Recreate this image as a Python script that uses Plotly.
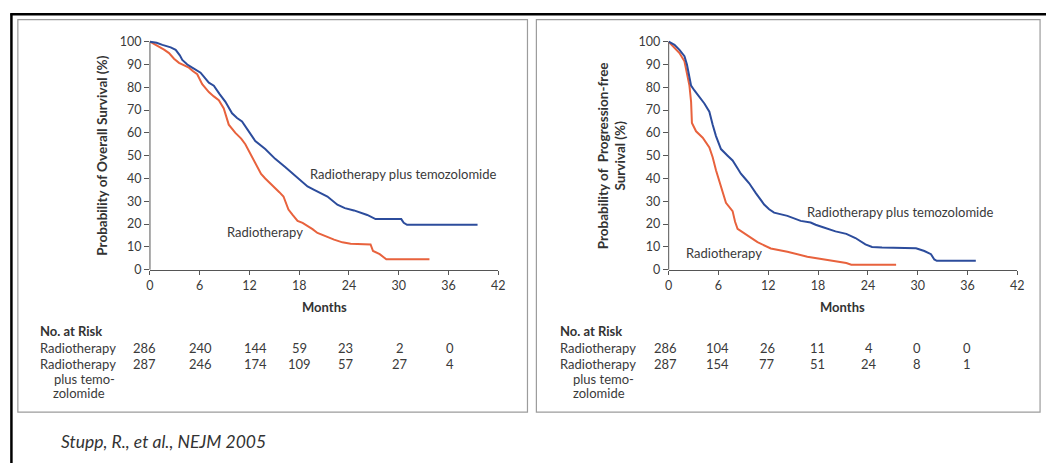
import plotly.graph_objects as go

# ---------------- data ----------------
os_tmz_months = [0, 0.8, 1.5, 2.5, 3.1, 3.6, 3.9, 4.5, 5.1, 6.1, 7.1, 7.7, 8.4, 9.1, 9.9, 10.5, 11.1,
                 11.9, 12.7, 13.9, 15.1, 16.3, 17.5, 18.2, 19.0, 19.8, 20.6, 21.4, 22.6, 23.5, 24.6,
                 25.4, 26.2, 27.2, 30.3, 30.6, 31.0, 39.5]
os_tmz_surv = [100, 99.5, 98.6, 97.5, 96.4, 94, 92, 90, 88.6, 86.4, 82, 80.7, 77, 73.6, 68.6, 66.5, 65,
               60.7, 56.4, 52.9, 48.6, 45, 41.4, 39, 36.5, 35, 33.5, 32.1, 28.5, 27, 26,
               25, 24, 22.2, 22.2, 20.6, 19.7, 19.7]

os_rt_months = [0, 0.5, 1.1, 1.7, 2.3, 2.9, 3.5, 4.1, 4.7, 5.2, 5.7, 6.3, 7.1, 7.7, 8.3, 8.9,
                9.5, 10.3, 11.0, 11.5, 12.1, 12.9, 13.4, 13.9, 14.5, 15.1, 15.6, 16.1, 16.7,
                17.2, 17.8, 18.4, 19.0, 19.6, 20.2, 21.2, 22.2, 23.2, 24.2, 26.6, 26.9, 27.7, 28.5, 33.7]
os_rt_surv = [100, 99, 97.9, 96.5, 95, 92.5, 90.7, 89.5, 88.6, 87, 85.7, 81.4, 77.9, 76, 74.3, 70.7,
              63.6, 60, 57.5, 55, 50.7, 45, 42, 40, 38, 35.7, 34, 32.1, 26.4,
              24, 21.4, 20.5, 19.3, 17.8, 16.1, 14.5, 13.2, 12, 11.4, 11.1, 8.2, 6.8, 4.6, 4.6]

pfs_tmz_months = [0, 0.7, 1.3, 1.9, 2.2, 2.5, 2.7, 3.1, 3.7, 4.3, 4.9, 5.1, 5.3, 5.7, 6.3, 7.1, 7.7,
                  8.2, 8.7, 9.2, 9.7, 10.5, 11.0, 11.5, 12.1, 12.7, 14.3, 15.9, 17.1, 17.7, 18.6,
                  19.8, 20.1, 21.4, 22.5, 23.7, 24.5, 25.7, 29.8, 30.8, 31.6, 32.0, 32.3, 37.0]
pfs_tmz_surv = [100, 98.6, 96.4, 93.6, 90, 85, 80.7, 78.6, 75.7, 72.9, 69.3, 66, 63.6, 58.6, 52.9, 50, 47.9,
                45, 42.1, 40, 37.9, 33.6, 31, 28.6, 26.5, 25, 23.6, 21.4, 20.7, 19.7, 18.6,
                17.1, 16.8, 15.7, 13.9, 11.1, 10, 9.7, 9.4, 8.2, 6.8, 4.5, 3.9, 3.9]

pfs_rt_months = [0, 0.5, 0.9, 1.3, 1.9, 2.2, 2.5, 2.7, 2.8, 3.3, 4.1, 4.9, 5.3, 5.7, 6.3, 6.9, 7.7,
                 8.0, 8.3, 9.5, 10.7, 12.3, 14.3, 16.7, 19.0, 21.4, 22.0, 27.4]
pfs_rt_surv = [100, 97.9, 96.5, 95, 91.4, 86.4, 80.7, 73.6, 64.3, 60.7, 57.9, 53.6, 49.3, 43.6, 36.4, 29.3, 25.7,
               21, 17.9, 15, 12.1, 9.3, 7.9, 5.7, 4.3, 2.9, 2.2, 2.2]

risk_months = [0, 6, 12, 18, 24, 30, 36]
os_risk_rt = [286, 240, 144, 59, 23, 2, 0]
os_risk_tmz = [287, 246, 174, 109, 57, 27, 4]
pfs_risk_rt = [286, 104, 26, 11, 4, 0, 0]
pfs_risk_tmz = [287, 154, 77, 51, 24, 8, 1]

x_ticks = [0, 6, 12, 18, 24, 30, 36, 42]
y_ticks = [0, 10, 20, 30, 40, 50, 60, 70, 80, 90, 100]

# ---------------- style / layout ----------------
W, H = 1053, 470
BLUE = "#2c4c9c"
RED = "#e8623d"
AX = "#555555"
TXT = "#3a3a3a"
FONT = "Lato"

def px(x):
    return x / W

def py(y):
    return 1 - y / H

Y0, PXPCT = 272.5, 2.33
YMAX = 102
left_dom = [px(147.5), px(499.5)]
right_dom = [px(671.7), px(1024.0)]
y_dom = [py(Y0), py(Y0 - YMAX * PXPCT)]

fig = go.Figure()
for xs, ys, col, xa in [
    (os_rt_months, os_rt_surv, RED, "x"),
    (os_tmz_months, os_tmz_surv, BLUE, "x"),
    (pfs_rt_months, pfs_rt_surv, RED, "x2"),
    (pfs_tmz_months, pfs_tmz_surv, BLUE, "x2"),
]:
    fig.add_trace(go.Scatter(x=xs, y=ys, mode="lines", line=dict(color=col, width=2),
                             xaxis=xa, yaxis="y" if xa == "x" else "y2", showlegend=False,
                             hoverinfo="skip"))

xcommon = dict(range=[0, 42], tickvals=x_ticks, showline=True, linecolor=AX, linewidth=1,
               ticks="outside", ticklen=4, tickcolor=AX, showgrid=False, zeroline=False,
               tickfont=dict(family=FONT, size=12.5, color=TXT), fixedrange=True)
ycommon = dict(range=[0, YMAX], tickvals=y_ticks, showline=False, ticks="outside", ticklen=5,
               tickcolor=AX, showgrid=False, zeroline=False, domain=y_dom,
               tickfont=dict(family=FONT, size=12.5, color=TXT), fixedrange=True)

fig.update_layout(
    width=W, height=H, margin=dict(l=0, r=0, t=0, b=0),
    paper_bgcolor="white", plot_bgcolor="rgba(0,0,0,0)",
    xaxis=dict(domain=left_dom, anchor="y", **xcommon),
    yaxis=dict(anchor="x", **ycommon),
    xaxis2=dict(domain=right_dom, anchor="y2", **xcommon),
    yaxis2=dict(anchor="x2", **ycommon),
)

shapes = []
# outer black border (top & left)
shapes.append(dict(type="line", xref="paper", yref="paper", x0=px(6.5), x1=1, y0=py(11.5), y1=py(11.5),
                   line=dict(color="black", width=2.5)))
shapes.append(dict(type="line", xref="paper", yref="paper", x0=px(7.5), x1=px(7.5), y0=py(10.5), y1=0,
                   line=dict(color="black", width=2.5)))
# panel boxes
for x0, x1 in [(14, 529), (538, 1047)]:
    shapes.append(dict(type="rect", xref="paper", yref="paper", x0=px(x0), x1=px(x1), y0=py(418), y1=py(17),
                       line=dict(color="#9c9c9c", width=1.2)))
# y axis lines from 0 to 100
for d in (left_dom, right_dom):
    shapes.append(dict(type="line", xref="paper", yref="paper", x0=d[0], x1=d[0],
                       y0=py(Y0), y1=py(Y0 - 100 * PXPCT), line=dict(color=AX, width=1)))
fig.update_layout(shapes=shapes)

ann = []
lab = dict(family=FONT, size=13, color=TXT)
# curve labels
ann.append(dict(x=19.3, y=41.8, xref="x", yref="y", text="Radiotherapy plus temozolomide",
                showarrow=False, xanchor="left", yanchor="middle", font=lab, xshift=-2))
ann.append(dict(x=9.25, y=16.5, xref="x", yref="y", text="Radiotherapy",
                showarrow=False, xanchor="left", yanchor="middle", font=lab, xshift=-2))
ann.append(dict(x=16.7, y=25.4, xref="x2", yref="y2", text="Radiotherapy plus temozolomide",
                showarrow=False, xanchor="left", yanchor="middle", font=lab, xshift=-2))
ann.append(dict(x=2.06, y=7.2, xref="x2", yref="y2", text="Radiotherapy",
                showarrow=False, xanchor="left", yanchor="middle", font=lab, xshift=-2))

bold = dict(family=FONT, size=13, color="#333333", weight="bold")
ytit = dict(family=FONT, size=13.5, color="#333333", weight="bold")
# y titles
ann.append(dict(x=px(99), y=py(156), xref="paper", yref="paper",
                text="Probability of Overall Survival (%)", textangle=-90, showarrow=False,
                xanchor="center", yanchor="middle", font=ytit))
ann.append(dict(x=px(614), y=py(156), xref="paper", yref="paper",
                text="Probability of  Progression-free<br>Survival (%)", textangle=-90, showarrow=False,
                xanchor="center", yanchor="middle", font=ytit))
# x titles
for xa in ("x", "x2"):
    ann.append(dict(x=21, y=py(310.5), xref=xa, yref="paper", text="Months", showarrow=False,
                    xanchor="center", yanchor="middle", font=bold))

# risk tables
row_y = [352.5, 368.4, 384.5, 398.9]
for left, xa, rt, tmz, shifts in [
    (36.5, "x", os_risk_rt, os_risk_tmz, [-5, 1, 6, 0, -3, 1, 1]),
    (561.4, "x2", pfs_risk_rt, pfs_risk_tmz, [-3, -1, -1, -1, 1, -1, -1]),
]:
    ann.append(dict(x=px(left), y=py(335.6), xref="paper", yref="paper", text="No. at Risk",
                    showarrow=False, xanchor="left", yanchor="middle", font=bold, xshift=-2))
    ann.append(dict(x=px(left), y=py(row_y[0]), xref="paper", yref="paper", text="Radiotherapy",
                    showarrow=False, xanchor="left", yanchor="middle", font=lab, xshift=-2))
    ann.append(dict(x=px(left), y=py(row_y[1]), xref="paper", yref="paper", text="Radiotherapy",
                    showarrow=False, xanchor="left", yanchor="middle", font=lab, xshift=-2))
    ann.append(dict(x=px(left + 14), y=py(row_y[2]), xref="paper", yref="paper", text="plus temo-",
                    showarrow=False, xanchor="left", yanchor="middle", font=lab, xshift=-2))
    ann.append(dict(x=px(left + 13.5), y=py(row_y[3]), xref="paper", yref="paper", text="zolomide",
                    showarrow=False, xanchor="left", yanchor="middle", font=lab, xshift=-2))
    for m, a, b, s in zip(risk_months, rt, tmz, shifts):
        ann.append(dict(x=m, y=py(row_y[0]), xref=xa, yref="paper", text=str(a), showarrow=False,
                        xanchor="center", yanchor="middle", font=lab, xshift=s))
        ann.append(dict(x=m, y=py(row_y[1]), xref=xa, yref="paper", text=str(b), showarrow=False,
                        xanchor="center", yanchor="middle", font=lab, xshift=s))

# caption
ann.append(dict(x=px(57.5), y=py(448), xref="paper", yref="paper",
                text="<i>Stupp, R., et al., NEJM 2005</i>", showarrow=False,
                xanchor="left", yanchor="middle", font=dict(family=FONT, size=17.5, color="#333333"),
                xshift=-2))

fig.update_layout(annotations=ann)
fig.write_html(
    "out.html",
    config={"displayModeBar": False},
    post_script="document.body.style.margin='0';document.body.style.overflow='hidden';",
)
